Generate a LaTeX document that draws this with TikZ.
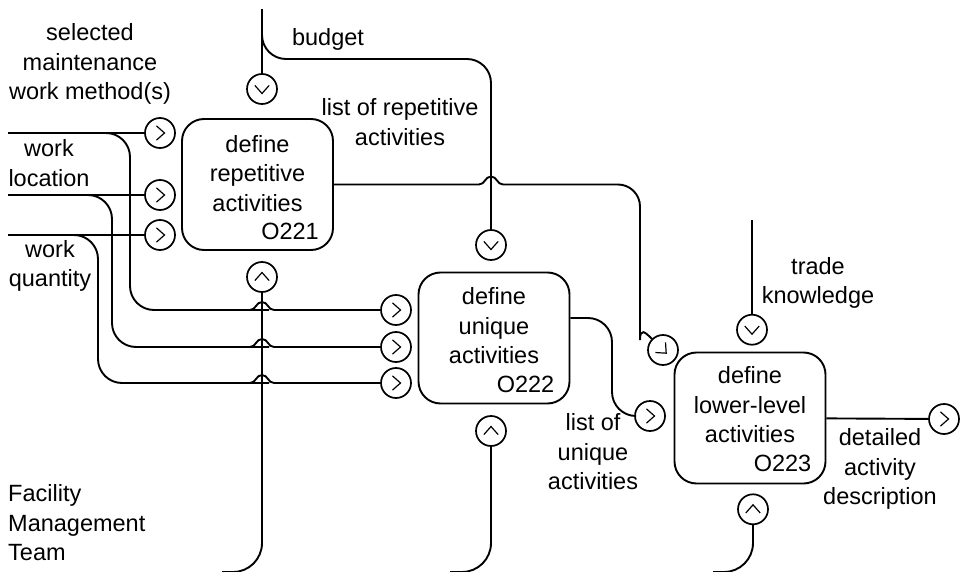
\documentclass[tikz,border=0pt]{standalone}
\usepackage{fontspec}
\setmainfont{Liberation Sans}
\usepackage{tikz}
\usetikzlibrary{positioning}
\tikzstyle{activity} = [draw, rectangle, rounded corners=22pt, minimum width=151pt, minimum height=131pt, line width=1.9pt, inner sep=0pt]
\tikzstyle{txt} = [align=center, inner sep=0pt, font=\fontsize{23.5}{29.5}\selectfont]
\tikzstyle{flow} = [line width=1.9pt, rounded corners=24pt]
\tikzset{port/.style={draw, circle, minimum size=30pt, inner sep=0pt, line width=1.7pt,
    path picture={\draw[line width=1.2pt, sharp corners]
      ([shift={(#1+116.6:8pt)}]path picture bounding box.center) --
      ([shift={(#1:4.5pt)}]path picture bounding box.center) --
      ([shift={(#1-116.6:8pt)}]path picture bounding box.center);}},
  port/.default=0}

% hop of a horizontal line over a vertical one at (#1,#2)
\newcommand{\jumpover}[2]{[sharp corners] -- ({#1-12},{#2}) .. controls ({#1-6},{#2}) and ({#1-6},{#2-8}) .. ({#1},{#2-8}) .. controls ({#1+6},{#2-8}) and ({#1+6},{#2}) .. ({#1+12},{#2})}

\begin{document}
\begin{tikzpicture}[x=1pt, y=-1pt]
    \useasboundingbox (0,0) rectangle (963,572);

    % activity boxes
    \node (repet) [activity] at (257.5,184.5) {};
    \node (unique) [activity] at (494,338) {};
    \node (lower) [activity] at (750,418) {};
    \node (repet-name) [txt] at ([yshift=11pt]repet.center) {define\\repetitive\\activities};
    \node (repet-id) [txt, anchor=east] at ([xshift=-15pt, yshift=20pt]repet.south east) {O221};
    \node (unique-name) [txt] at ([yshift=12pt]unique.center) {define\\unique\\activities};
    \node (unique-id) [txt, anchor=east] at ([xshift=-16pt, yshift=20pt]unique.south east) {O222};
    \node (lower-name) [txt] at ([yshift=13pt]lower.center) {define\\lower-level\\activities};
    \node (lower-id) [txt, anchor=east] at ([xshift=-15pt, yshift=21pt]lower.south east) {O223};

    % ports
    \node (repet-i1) [port] at (160,133) {};
    \node (repet-i2) [port] at (160,195) {};
    \node (repet-i3) [port] at (160,235) {};
    \node (repet-c) [port=-90] at (262,89) {};
    \node (repet-m) [port=90] at (262,277) {};
    \node (unique-i1) [port] at (396,310) {};
    \node (unique-i2) [port] at (396,347) {};
    \node (unique-i3) [port] at (396,383) {};
    \node (unique-c) [port=-90] at (491,245) {};
    \node (unique-m) [port=90] at (491,431) {};
    \node (lower-i1) [port=-45] at (663,350) {};
    \node (lower-i2) [port] at (650,416) {};
    \node (lower-c) [port=-90, above=6pt of lower, xshift=2pt] {};
    \node (lower-m) [port=90, below=9pt of lower, xshift=3pt] {};
    \node (lower-o) [port] at (944,419) {};

    % free ends
    \coordinate (meth-in) at (8,133);
    \coordinate (loc-in) at (8,195);
    \coordinate (qty-in) at (8,235);
    \coordinate (budget-in) at (262,9);
    \coordinate (trade-in) at (752,220);
    \coordinate (team-a) at (222,572);
    \coordinate (team-b) at (450,572);
    \coordinate (team-c) at (713,572);

    % inputs
    \draw [flow] (meth-in) -- (repet-i1);
    \draw [flow] (loc-in) -- (repet-i2);
    \draw [flow] (qty-in) -- (repet-i3);
    \draw [flow] ([xshift=92pt]meth-in) -- (130,133) -- (130,310) -- (245,310) \jumpover{262}{310} -- (unique-i1);
    \draw [flow] ([xshift=80pt]loc-in) -- (112,195) -- (112,347) -- (245,347) \jumpover{262}{347} -- (unique-i2);
    \draw [flow] ([xshift=66pt]qty-in) -- (98,235) -- (98,383) -- (245,383) \jumpover{262}{383} -- (unique-i3);

    % controls
    \draw [flow] (budget-in) -- (repet-c);
    \draw [flow] ([yshift=-16pt]budget-in) -- (262,59) -- (491,59) -- (unique-c);
    \draw [flow] (trade-in) -- (lower-c);

    % mechanisms
    \draw [flow, rounded corners=29pt] (team-a) -- (262,572) -- (repet-m);
    \draw [flow, rounded corners=29pt] (team-b) -- (491,572) -- (unique-m);
    \draw [flow, rounded corners=29pt] (team-c) -- (753,572) -- (lower-m);

    % outputs
    \draw [flow] (repet.east) \jumpover{491}{184.5} [rounded corners=22pt] -- (640,184.5) -- (640,318) [sharp corners] to[out=-90, in=135] (lower-i1.north west);
    \draw [flow] ([yshift=20pt]unique.east) -- (612,318) -- (612,416) -- (lower-i2);
    \draw [flow] (lower) -- (lower-o);

    % labels
    \node (meth-lbl) [txt] at (90,64) {selected\\maintenance\\work method(s)};
    \node (loc-lbl) [txt] at (49,163) {work\\location};
    \node (qty-lbl) [txt] at (50,266) {work\\quantity};
    \node (budget-lbl) [txt] at (328,39) {budget};
    \node (rlist-lbl) [txt] at (400,122) {list of repetitive\\activities};
    \node (trade-lbl) [txt] at (818,283) {trade\\knowledge};
    \node (ulist-lbl) [txt] at (593,452) {list of\\unique\\activities};
    \node (desc-lbl) [txt] at (880,469) {detailed\\activity\\description};
    \node (team-lbl) [txt, align=left, anchor=west] at (8,523) {Facility\\Management\\Team};
\end{tikzpicture}
\end{document}
